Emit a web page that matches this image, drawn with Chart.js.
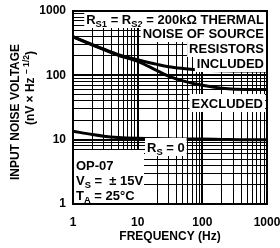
<!DOCTYPE html>
<html lang="en">
<head>
<meta charset="UTF-8">
<title>OP-07 input noise voltage</title>
<script src="https://cdn.jsdelivr.net/npm/chart.js@4/dist/chart.umd.min.js"></script>
<style>
    html, body { margin: 0; padding: 0; background: #fff; }
    .wrap { width: 280px; height: 248px; position: relative; }
</style>
</head>
<body>
<div class="wrap"><canvas id="noise"></canvas></div>
<script>
// values
const freqs = [1, 2, 3, 5, 10, 20, 30, 50, 100, 200, 500, 1000];
const included = [400, 300, 255, 210, 175, 148, 136, 128, 121, 118, 117, 117];
const excluded = [395, 295, 250, 205, 165, 118, 97, 82, 70, 63, 60, 60];
const rsZero = [13.5, 12, 11.3, 10.8, 10.5, 10.4, 10.3, 10.2, 10.2, 10.1, 10, 10];
const xLabels = [1, 10, 100, 1000];
const yLabels = [1, 10, 100, 1000];

// log grid: 1..9 in each decade
const gridVals = [];
[1, 10, 100].forEach(d => { for (let m = 1; m < 10; m++) gridVals.push(m * d); });
gridVals.push(1000);

const FONT = "'Liberation Sans', Arial, sans-serif";

function series(ys) {
    return freqs.map((f, i) => ({ x: f, y: ys[i] }));
}

function lineSet(ys) {
    return {
        data: series(ys),
        borderColor: '#000',
        borderWidth: 3,
        pointRadius: 0,
        cubicInterpolationMode: 'monotone',
        fill: false
    };
}

// text with sub/superscript pieces
function partsWidth(ctx, parts, size) {
    let w = 0;
    parts.forEach(p => {
        ctx.font = 'bold ' + (p.sub || p.sup ? size * 0.72 : size) + 'px ' + FONT;
        w += ctx.measureText(p.t).width;
    });
    return w;
}

function drawParts(ctx, parts, x, y, size) {
    ctx.textAlign = 'left';
    ctx.textBaseline = 'alphabetic';
    parts.forEach(p => {
        const s = p.sub || p.sup ? size * 0.72 : size;
        ctx.font = 'bold ' + s + 'px ' + FONT;
        const dy = p.sub ? size * 0.25 : (p.sup ? -size * 0.4 : 0);
        ctx.fillText(p.t, x, y + dy);
        x += ctx.measureText(p.t).width;
    });
}

function boxedText(ctx, parts, x, y, size, align) {
    const w = partsWidth(ctx, parts, size);
    const left = align === 'right' ? x - w : x;
    ctx.fillStyle = '#fff';
    ctx.fillRect(left - 2, y - size - 1, w + 4, size + 5);
    ctx.fillStyle = '#000';
    drawParts(ctx, parts, left, y, size);
}

const notes = {
    id: 'notes',
    afterDraw(chart) {
        const ctx = chart.ctx;
        const a = chart.chartArea;
        ctx.save();

        // curve labels
        const r = a.right - 3;
        boxedText(ctx, [{ t: 'R' }, { t: 'S1', sub: true }, { t: ' = R' }, { t: 'S2', sub: true }, { t: ' = 200kΩ THERMAL' }], r, a.top + 13, 13, 'right');
        boxedText(ctx, [{ t: 'NOISE OF SOURCE' }], r, a.top + 27, 13, 'right');
        boxedText(ctx, [{ t: 'RESISTORS' }], r, a.top + 42, 13, 'right');
        boxedText(ctx, [{ t: 'INCLUDED' }], r, a.top + 57, 13, 'right');
        boxedText(ctx, [{ t: 'EXCLUDED' }], r - 1, a.top + 97, 13, 'right');
        boxedText(ctx, [{ t: 'R' }, { t: 'S', sub: true }, { t: ' = 0' }], a.left + 74, a.top + 141, 13, 'left');

        // conditions box
        ctx.fillStyle = '#fff';
        ctx.fillRect(a.left + 1, a.top + 139, 70, a.bottom - a.top - 140);
        ctx.fillStyle = '#000';
        drawParts(ctx, [{ t: 'OP-07' }], a.left + 3, a.top + 159, 13);
        drawParts(ctx, [{ t: 'V' }, { t: 'S', sub: true }, { t: ' =  ± 15V' }], a.left + 3, a.top + 174, 13);
        drawParts(ctx, [{ t: 'T' }, { t: 'A', sub: true }, { t: ' = 25°C' }], a.left + 3, a.top + 189, 13);

        // plot frame
        ctx.strokeStyle = '#000';
        ctx.lineWidth = 2;
        ctx.strokeRect(a.left, a.top, a.right - a.left, a.bottom - a.top);

        // axis titles
        ctx.font = 'bold 12px ' + FONT;
        ctx.textAlign = 'center';
        ctx.textBaseline = 'middle';
        ctx.fillText('FREQUENCY (Hz)', (a.left + a.right) / 2, 237);

        ctx.translate(16, 112);
        ctx.rotate(-Math.PI / 2);
        ctx.fillText('INPUT NOISE VOLTAGE', 0, 0);
        const p2 = [{ t: '(nV × Hz ' }, { t: '– 1/2', sup: true }, { t: ')' }];
        const w2 = partsWidth(ctx, p2, 12);
        drawParts(ctx, p2, 24 - w2 / 2, 18, 12);
        ctx.restore();
    }
};

const tickFont = { family: FONT, size: 12, weight: 'bold' };

new Chart(document.getElementById('noise'), {
    type: 'line',
    data: {
        datasets: [lineSet(included), lineSet(excluded), lineSet(rsZero)]
    },
    options: {
        responsive: true,
        maintainAspectRatio: false,
        animation: false,
        layout: { padding: { top: 11, right: 13, left: 0, bottom: 0 } },
        plugins: { legend: { display: false }, tooltip: { enabled: false } },
        scales: {
            x: {
                type: 'logarithmic',
                min: 1,
                max: 1000,
                afterBuildTicks: s => { s.ticks = gridVals.map(v => ({ value: v })); },
                afterFit: s => { s.height = 44; s.paddingLeft = 0; s.paddingRight = 0; },
                ticks: {
                    autoSkip: false,
                    maxRotation: 0,
                    minRotation: 0,
                    padding: 11,
                    color: '#000',
                    font: tickFont,
                    callback: v => xLabels.includes(v) ? String(v) : ''
                },
                grid: {
                    color: '#000',
                    drawTicks: false,
                    lineWidth: c => xLabels.includes(c.tick && c.tick.value) ? 2 : 1
                },
                border: { display: true, color: '#000', width: 2 }
            },
            y: {
                type: 'logarithmic',
                min: 1,
                max: 1000,
                afterBuildTicks: s => { s.ticks = gridVals.map(v => ({ value: v })); },
                afterFit: s => { s.width = 73; s.paddingTop = 0; s.paddingBottom = 0; },
                ticks: {
                    autoSkip: false,
                    padding: 7,
                    color: '#000',
                    font: tickFont,
                    callback: v => yLabels.includes(v) ? String(v) : ''
                },
                grid: {
                    color: '#000',
                    drawTicks: false,
                    lineWidth: c => yLabels.includes(c.tick && c.tick.value) ? 2 : 1
                },
                border: { display: true, color: '#000', width: 2 }
            }
        }
    },
    plugins: [notes]
});
</script>
</body>
</html>
